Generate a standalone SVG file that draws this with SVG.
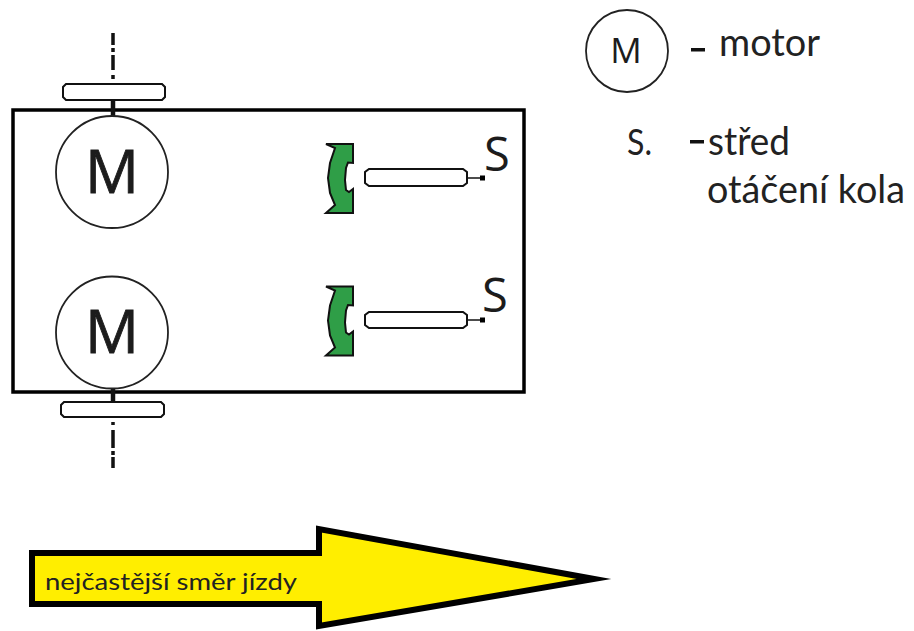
<svg xmlns="http://www.w3.org/2000/svg" width="914" height="631" viewBox="0 0 914 631">
<style>
.t{font-family:"Open Sans","Noto Sans","Liberation Sans",sans-serif;fill:#1c1c1c}
.big{stroke:#1c1c1c;stroke-width:.8}
.l{font-family:Lato,"Open Sans","Liberation Sans",sans-serif;fill:#222}
.wheel{fill:#fff;stroke:#111;stroke-width:2}
.motor{fill:#fff;stroke:#222;stroke-width:1.8}
.brake{fill:#2f9e47;stroke:#111;stroke-width:2}
.hub{fill:#fff;stroke:#111;stroke-width:2}
.axle{stroke:#111;stroke-width:4.500;fill:none}
.centre{stroke:#111;stroke-width:3.500;fill:none}
.arm{stroke:#111;stroke-width:1.500;fill:none}
</style>
<defs>
<path id="brakeShape" d="M326 144H353V163L348 162.500 346 168 345 180 346 190 349 192 353 189V213H326L335 205 330 193 328 178 330 163 335 148Z"/>
</defs>
<rect width="914" height="631" fill="#fff"/>
<rect id="chassis" x="13" y="110" width="511" height="282" fill="none" stroke="#000" stroke-width="3.500"/>
<g id="connectors">
<path class="axle" d="M113 100V116"/>
<path class="axle" d="M113 386V402"/>
<path class="centre" d="M113 33V45M113 48V52M113 55V70M113 75V79"/>
<path class="centre" d="M113 422V425M113 430V448M113 451V455M113 457V468"/>
<path class="arm" d="M467 178H482"/>
<path class="arm" d="M467 320H482"/>
</g>
<g id="wheel-top"><path class="wheel" d="M66 84H162L165 87V97L162 100H66L63 97V87Z"/></g>
<g id="wheel-bottom"><path class="wheel" d="M64 402H161L164 405V414L161 417H64L61 414V405Z"/></g>
<g id="motor-top"><circle class="motor" cx="112" cy="172" r="56"/><text class="t big" x="112" y="193" font-size="60" text-anchor="middle">M</text></g>
<g id="motor-bottom"><circle class="motor" cx="112" cy="332.500" r="56"/><text class="t big" x="112" y="353" font-size="60" text-anchor="middle">M</text></g>
<g id="brake-top"><use href="#brakeShape" class="brake"/></g>
<g id="brake-bottom"><use href="#brakeShape" class="brake" y="142.500"/></g>
<g id="hub-top"><path class="hub" d="M369 169H463L467 172V183L463 186H369L365 183V172Z"/><rect x="480" y="175.500" width="5" height="5" fill="#000"/><text class="t" x="484" y="171" font-size="47">S</text></g>
<g id="hub-bottom"><path class="hub" d="M369 312H463L467 315V325L463 328H369L365 325V315Z"/><rect x="480" y="317.500" width="5" height="5" fill="#000"/><text class="t" x="482" y="312" font-size="47">S</text></g>
<g id="legend-motor"><circle class="motor" cx="627" cy="51" r="41"/><text class="t" x="626" y="63" font-size="35" text-anchor="middle">M</text><rect x="691" y="48" width="14" height="3.500" fill="#111"/><text class="l" x="719" y="56" font-size="38" textLength="101" lengthAdjust="spacingAndGlyphs">motor</text></g>
<g id="legend-s"><text class="l" x="627" y="155" font-size="36" textLength="25" lengthAdjust="spacingAndGlyphs">S.</text><rect x="690" y="140" width="14" height="3.500" fill="#111"/><text class="l" x="708" y="155" font-size="38" textLength="82" lengthAdjust="spacingAndGlyphs">střed</text><text class="l" x="707" y="203" font-size="38" textLength="198" lengthAdjust="spacingAndGlyphs">otáčení kola</text></g>
<g id="direction-arrow"><path d="M32 553H319V529L594 579 319 626V604H32Z" fill="#ffee00" stroke="#000" stroke-width="6" stroke-miterlimit="20"/><text class="l" x="45" y="590" font-size="24" textLength="252" lengthAdjust="spacingAndGlyphs">nejčastější směr jízdy</text></g>
</svg>
